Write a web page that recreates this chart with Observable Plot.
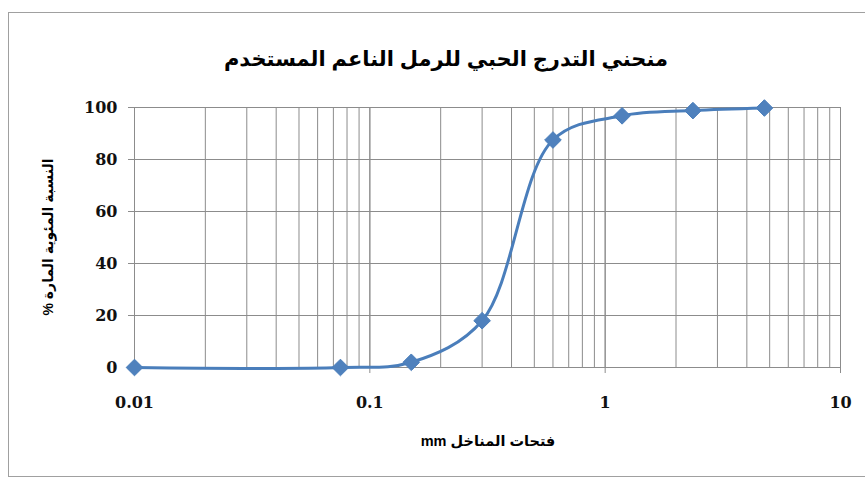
<!DOCTYPE html>
<html><head><meta charset="utf-8">
<script src="https://cdn.jsdelivr.net/npm/d3@7"></script>
<script src="https://cdn.jsdelivr.net/npm/@observablehq/plot@0.6"></script>
<style>
body{margin:0;background:#fff;}
#wrap{position:relative;width:865px;height:477px;overflow:hidden;font-family:Arial,"DejaVu Sans",sans-serif;background:#fff;}
#frame{position:absolute;left:8px;top:12px;width:900px;height:465px;border:1.5px solid #a0a0a0;box-sizing:border-box;}
#title{position:absolute;left:0;width:892px;top:47px;text-align:center;font-weight:bold;font-size:21px;direction:rtl;color:#000;}
#ylab{position:absolute;left:48px;top:237px;transform:translate(-50%,-50%) rotate(-90deg);white-space:nowrap;font-weight:bold;font-size:14px;direction:rtl;}
#xlab{position:absolute;left:488px;top:441px;transform:translate(-50%,-50%);white-space:nowrap;font-size:14.5px;font-weight:bold;direction:rtl;}
#chart{position:absolute;left:0;top:80px;}
#chart svg text{font-family:"DejaVu Serif",serif;font-weight:bold;font-size:16px;fill:#111;}
</style></head>
<body>
<div id="wrap">
<div id="frame"></div>
<div id="title">منحني التدرج الحبي للرمل الناعم المستخدم</div>
<div id="ylab">النسبة المئوية المارة %</div>
<div id="xlab">فتحات المناخل mm</div>
<div id="chart"></div>
</div>
<script>
const sieveSizes = [0.01, 0.075, 0.15, 0.3, 0.6, 1.18, 2.36, 4.75];
const percentPassing = [0, 0, 2, 18, 87.5, 96.8, 98.8, 99.8];
const xTicks = [0.01, 0.1, 1, 10];
const xTickLabels = ["0.01", "0.1", "1", "10"];
const yTicks = [0, 20, 40, 60, 80, 100];

const data = sieveSizes.map((s, i) => ({size: s, pct: percentPassing[i]}));
const minorTicks = [];
for (const dec of [0.01, 0.1, 1]) for (let k = 1; k <= 10; k++) minorTicks.push(+(dec * k).toPrecision(3));

const grid = "#8c8c8c";
const blue = "#4A7EBB";
const chart = Plot.plot({
  width: 865,
  height: 380,
  marginLeft: 134,
  marginRight: 25,
  marginTop: 27,
  marginBottom: 93,
  x: {type: "log", domain: [0.01, 10]},
  y: {domain: [0, 100]},
  marks: [
    Plot.gridX(minorTicks, {stroke: grid, strokeOpacity: 1, strokeWidth: 1}),
    Plot.gridY(yTicks, {stroke: grid, strokeOpacity: 1, strokeWidth: 1}),
    Plot.axisX(xTicks, {tickSize: 6, tickPadding: 23, stroke: grid, tickFormat: (d) => xTickLabels[xTicks.indexOf(d)], label: null}),
    Plot.axisY(yTicks, {tickSize: 6, tickPadding: 11, stroke: grid, label: null}),
    Plot.line(data, {x: "size", y: "pct", curve: "catmull-rom", stroke: blue, strokeWidth: 3}),
    Plot.dot(data, {x: "size", y: "pct", symbol: "diamond2", r: 7.5, fill: "#4F81BD", stroke: blue, strokeWidth: 1})
  ]
});
document.getElementById("chart").appendChild(chart);
</script>
</body></html>
